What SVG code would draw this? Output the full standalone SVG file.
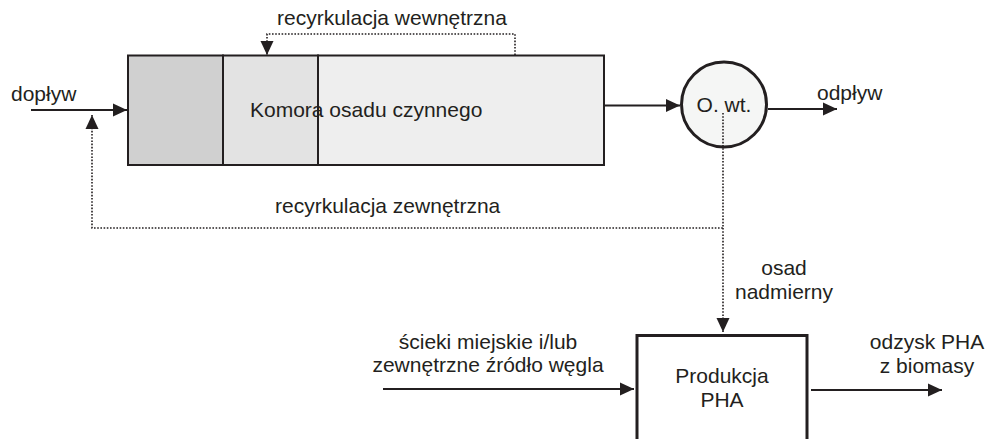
<svg xmlns="http://www.w3.org/2000/svg" width="988" height="439" viewBox="0 0 988 439">
<style>
text{font-family:"Liberation Sans",Arial,sans-serif;font-size:21px;fill:#231f20}
.solid{stroke:#231f20;stroke-width:2;fill:none}
.dot{stroke:#231f20;stroke-width:1.6;fill:none;stroke-dasharray:1.6 1.6}
.c{text-anchor:middle}
</style>
<defs>
<marker id="ah" markerUnits="userSpaceOnUse" markerWidth="15" markerHeight="15" viewBox="0 0 15 15" refX="14" refY="7.5" orient="auto">
<path d="M0,1 L14,7.5 L0,14 Z" fill="#231f20"/>
</marker>
</defs>
<rect width="988" height="439" fill="#fff"/>
<g id="komora">
<rect x="128" y="55.5" width="95" height="109.5" fill="#d0d0d0" stroke="#231f20" stroke-width="2"/>
<rect x="223" y="55.5" width="95" height="109.5" fill="#e3e3e3" stroke="#231f20" stroke-width="2"/>
<rect x="318" y="55.5" width="286" height="109.5" fill="#eeeeee" stroke="#231f20" stroke-width="2"/>
<text x="250" y="116.5">Komora osadu czynnego</text>
</g>
<g id="osadnik">
<circle cx="724" cy="104.5" r="42.5" fill="#f5f6f5" stroke="#231f20" stroke-width="3"/>
<text class="c" x="724" y="112">O. wt.</text>
</g>
<g id="produkcja">
<rect x="637" y="335.5" width="170" height="120" fill="#fff" stroke="#231f20" stroke-width="3"/>
<text class="c" x="722" y="383">Produkcja</text>
<text class="c" x="722" y="406.5">PHA</text>
</g>
<g id="labels">
<text x="11" y="101">dopływ</text>
<text x="817" y="100">odpływ</text>
<text x="277" y="25">recyrkulacja wewnętrzna</text>
<text x="275" y="213">recyrkulacja zewnętrzna</text>
<text class="c" x="784" y="275">osad</text>
<text class="c" x="784" y="299">nadmierny</text>
<text class="c" x="488" y="349">ścieki miejskie i/lub</text>
<text class="c" x="488" y="372">zewnętrzne źródło węgla</text>
<text class="c" x="927" y="349">odzysk PHA</text>
<text class="c" x="927" y="372.5">z biomasy</text>
</g>
<g id="connectors">
<path class="solid" d="M31,110 H127" marker-end="url(#ah)"/>
<path class="solid" d="M605,105.5 H680" marker-end="url(#ah)"/>
<path class="solid" d="M768,109 H837" marker-end="url(#ah)"/>
<path class="solid" d="M383,389 H634" marker-end="url(#ah)"/>
<path class="solid" d="M811,390 H942" marker-end="url(#ah)"/>
<path class="dot" d="M515,55 V34 H267 V55" marker-end="url(#ah)"/>
<path class="dot" d="M723,113 V228 H92 V115" marker-end="url(#ah)"/>
<path class="dot" d="M723,228 V332" marker-end="url(#ah)"/>
</g>
</svg>
